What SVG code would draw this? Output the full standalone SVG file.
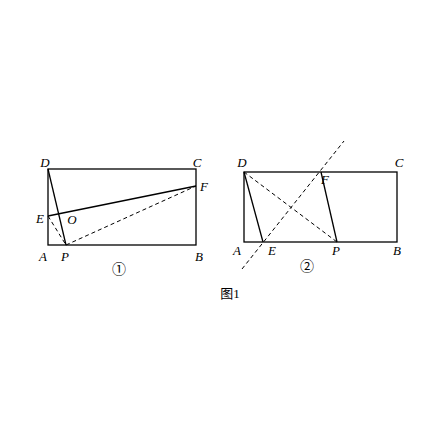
<svg xmlns="http://www.w3.org/2000/svg" width="440" height="440" viewBox="0 0 440 440">
<style>
.s{stroke:#000;stroke-width:1.3;fill:none}
.d{stroke:#000;stroke-width:1;fill:none;stroke-dasharray:4,3}
.t{font-family:"Liberation Serif",serif;font-style:italic;font-size:13px;fill:#000;text-anchor:middle}
.n{font-family:"Liberation Serif","Noto Sans CJK SC",serif;font-size:13px;fill:#000;text-anchor:middle}
.c{font-family:"Noto Sans CJK SC",sans-serif;font-size:14px;fill:#000;text-anchor:middle}
</style>
<rect width="440" height="440" fill="#fff"/>
<g id="fig1">
<rect class="s" x="48" y="169" width="148" height="76"/>
<g id="connectors1">
<line class="s" x1="48" y1="169" x2="66" y2="245"/>
<line class="s" x1="48" y1="216" x2="196" y2="186"/>
<line class="d" x1="48" y1="216" x2="66" y2="245"/>
<line class="d" x1="66" y1="245" x2="196" y2="186"/>
</g>
<text class="t" x="45" y="167">D</text>
<text class="t" x="197" y="167">C</text>
<text class="t" x="204" y="191">F</text>
<text class="t" x="40" y="223">E</text>
<text class="t" x="72" y="224">O</text>
<text class="t" x="43" y="261">A</text>
<text class="t" x="65" y="261">P</text>
<text class="t" x="199" y="261">B</text>
<text class="c" x="119" y="274">①</text>
</g>
<g id="fig2">
<rect class="s" x="244" y="172" width="153" height="70"/>
<g id="connectors2">
<line class="s" x1="244" y1="172" x2="263" y2="242"/>
<line class="s" x1="321" y1="172" x2="337" y2="242"/>
<line class="d" x1="244" y1="172" x2="337" y2="242"/>
<line class="d" x1="242" y1="269" x2="344" y2="141"/>
</g>
<text class="t" x="242" y="167">D</text>
<text class="t" x="399" y="167">C</text>
<text class="t" x="325" y="184">F</text>
<text class="t" x="237" y="255">A</text>
<text class="t" x="272" y="255">E</text>
<text class="t" x="336" y="255">P</text>
<text class="t" x="397" y="255">B</text>
<text class="c" x="307" y="271">②</text>
</g>
<text class="n" x="230" y="298">图1</text>
</svg>
